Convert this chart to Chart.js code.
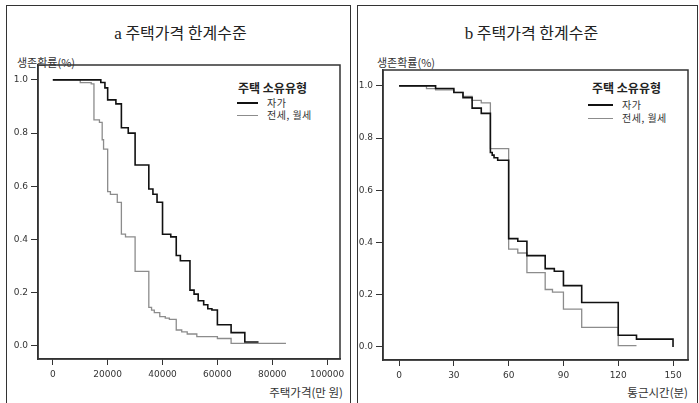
<!DOCTYPE html>
<html>
<head>
<meta charset="utf-8">
<script src="https://cdn.jsdelivr.net/npm/chart.js@4.4.0/dist/chart.umd.min.js"></script>
<style>
  body { margin: 0; width: 699px; height: 403px; overflow: hidden; position: relative; background: #fff;
         font-family: "Noto Sans CJK KR", sans-serif; color: #222; }
  .panel { position: absolute; top: 5px; height: 430px; border: 1.5px solid #333; box-sizing: border-box; }
  .txt { position: absolute; white-space: nowrap; }
  .title { font-size: 16px; line-height: 20px; text-align: center; top: 22px; }
  .title .ser { font-family: "Liberation Serif", serif; font-size: 17px; }
  .ytitle { font-size: 11px; line-height: 14px; top: 55px; color: #333; }
  .xtitle { font-size: 11.5px; line-height: 14px; top: 385px; text-align: right; color: #333; }
  .lgtitle { font-size: 12px; font-weight: bold; line-height: 14px; top: 81px; color: #222; }
  .lgtext { font-size: 10px; line-height: 12px; letter-spacing: 0.5px; color: #333; }
  .lgline { position: absolute; height: 0; }
  canvas { position: absolute; }
</style>
</head>
<body>
<div class="panel" style="left:6px;width:345px"></div>
<div class="panel" style="left:357px;width:341px"></div>

<div class="txt title" style="left:9px;width:343px"><span class="ser">a</span> 주택가격 한계수준</div>
<div class="txt title" style="left:361px;width:341px"><span class="ser">b</span> 주택가격 한계수준</div>

<div class="txt ytitle" style="left:17px">생존확률(%)</div>
<div class="txt ytitle" style="left:377px">생존확률(%)</div>

<div class="txt lgtitle" style="left:238px">주택 소유유형</div>
<div class="lgline" style="left:237px;top:102px;width:21px;border-top:2px solid #111"></div>
<div class="txt lgtext" style="left:267px;top:97px">자가</div>
<div class="lgline" style="left:237px;top:115px;width:21px;border-top:1.3px solid #8c8c8c"></div>
<div class="txt lgtext" style="left:267px;top:109px">전세, 월세</div>

<div class="txt lgtitle" style="left:592px">주택 소유유형</div>
<div class="lgline" style="left:588px;top:104px;width:25px;border-top:2px solid #111"></div>
<div class="txt lgtext" style="left:622px;top:99px">자가</div>
<div class="lgline" style="left:588px;top:118px;width:25px;border-top:1.3px solid #8c8c8c"></div>
<div class="txt lgtext" style="left:622px;top:112px">전세, 월세</div>

<div class="txt xtitle" style="left:200px;width:143px">주택가격(만 원)</div>
<div class="txt xtitle" style="left:545px;width:143px">통근시간(분)</div>

<canvas id="chartA" width="342" height="363" style="left:8px;top:40px"></canvas>
<canvas id="chartB" width="341" height="363" style="left:358px;top:40px"></canvas>

<script>
// tick labels
const survTicks = [0, 0.2, 0.4, 0.6, 0.8, 1.0];
const priceTicks = [0, 20000, 40000, 60000, 80000, 100000];
const timeTicks = [0, 30, 60, 90, 120, 150];

// a: 주택가격 - 자가
const priceOwnX = [0, 17500, 19000, 20000, 23000, 25000, 27500, 30000, 35000, 36500, 38000, 40000, 43000,
  45000, 46500, 50000, 51500, 53000, 55000, 56500, 58000, 60000, 65000, 70000, 75000];
const priceOwnY = [1.0, 0.99, 0.97, 0.925, 0.91, 0.82, 0.80, 0.68, 0.59, 0.57, 0.54, 0.42, 0.41,
  0.34, 0.32, 0.21, 0.195, 0.17, 0.155, 0.14, 0.135, 0.08, 0.05, 0.015, 0.015];
// a: 주택가격 - 전세, 월세
const priceRentX = [0, 10000, 14000, 15000, 17000, 18000, 18500, 20000, 21000, 23500, 25000, 26500, 30000,
  35000, 36000, 37000, 39000, 41000, 42500, 45000, 47000, 49000, 52500, 60000, 65000, 85000];
const priceRentY = [1.0, 0.99, 0.985, 0.85, 0.84, 0.775, 0.74, 0.58, 0.57, 0.54, 0.42, 0.41, 0.28,
  0.145, 0.135, 0.125, 0.11, 0.105, 0.10, 0.06, 0.053, 0.045, 0.035, 0.028, 0.01, 0.01];

// b: 통근시간 - 자가
const timeOwnX = [0, 20, 30, 35, 40, 45, 50, 51, 52, 54, 60, 65, 70, 80, 85, 90, 100, 120, 130, 150];
const timeOwnY = [1.0, 0.99, 0.975, 0.955, 0.915, 0.895, 0.745, 0.735, 0.725, 0.715, 0.415, 0.405,
  0.35, 0.30, 0.29, 0.235, 0.17, 0.045, 0.03, 0.0];
// b: 통근시간 - 전세, 월세
const timeRentX = [0, 15, 20, 30, 35, 40, 45, 50, 60, 65, 70, 80, 84, 90, 100, 120, 130];
const timeRentY = [1.0, 0.99, 0.985, 0.975, 0.96, 0.945, 0.935, 0.76, 0.375, 0.36, 0.285, 0.22,
  0.21, 0.145, 0.075, 0.005, 0.005];

const toPoints = (xs, ys) => xs.map((x, i) => ({ x: x, y: ys[i] }));

// box around the plot area
const frameBox = {
  id: 'frameBox',
  afterDraw(chart) {
    const a = chart.chartArea, ctx = chart.ctx;
    ctx.save();
    ctx.strokeStyle = '#333';
    ctx.lineWidth = 1.5;
    ctx.strokeRect(a.left, a.top, a.right - a.left, a.bottom - a.top);
    ctx.restore();
  }
};

function makeChart(id, own, rent, xTicks, xMin, xMax, yMin, yMax, yWidth, xHeight, padTop, padRight) {
  const tickFont = { family: 'DejaVu Sans', size: 9 };
  new Chart(document.getElementById(id), {
    type: 'line',
    data: {
      datasets: [
        { label: '자가', data: own, borderColor: '#111', borderWidth: 1.6, stepped: true, pointRadius: 0, order: 0 },
        { label: '전세, 월세', data: rent, borderColor: '#8c8c8c', borderWidth: 1.3, stepped: true, pointRadius: 0, order: 1 }
      ]
    },
    options: {
      responsive: false,
      animation: false,
      layout: { padding: { top: padTop, right: padRight, left: 0, bottom: 0 } },
      plugins: { legend: { display: false }, tooltip: { enabled: false } },
      scales: {
        x: {
          type: 'linear', min: xMin, max: xMax,
          afterBuildTicks: s => { s.ticks = xTicks.map(v => ({ value: v })); },
          afterFit: s => { s.height = xHeight; },
          ticks: { font: tickFont, color: '#333', padding: 4, maxRotation: 0, callback: v => String(v) },
          grid: { drawOnChartArea: false, tickLength: 6, color: '#333' },
          border: { color: '#333', width: 1.5 }
        },
        y: {
          type: 'linear', min: yMin, max: yMax,
          afterBuildTicks: s => { s.ticks = survTicks.map(v => ({ value: v })); },
          afterFit: s => { s.width = yWidth; },
          ticks: { font: tickFont, color: '#333', padding: 3, callback: v => Number(v).toFixed(1) },
          grid: { drawOnChartArea: false, tickLength: 7, color: '#333' },
          border: { color: '#333', width: 1.5 }
        }
      }
    },
    plugins: [frameBox]
  });
}

makeChart('chartA', toPoints(priceOwnX, priceOwnY), toPoints(priceRentX, priceRentY),
  priceTicks, -5400, 104700, -0.049, 1.056, 30, 44, 25, 10);
makeChart('chartB', toPoints(timeOwnX, timeOwnY), toPoints(timeRentX, timeRentY),
  timeTicks, -8.8, 158.2, -0.05, 1.061, 25, 43, 30, 11);
</script>
</body>
</html>
